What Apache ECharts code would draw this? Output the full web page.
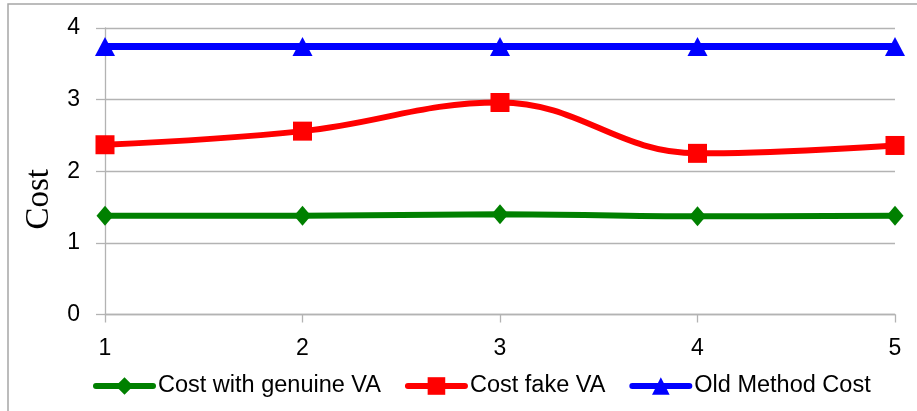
<!DOCTYPE html>
<html>
<head>
<meta charset="utf-8">
<script src="https://cdn.jsdelivr.net/npm/echarts@6/dist/echarts.min.js"></script>
<style>
  html, body { margin: 0; padding: 0; background: #fff; }
  #chart { width: 917px; height: 411px; }
</style>
</head>
<body>
<div id="chart"></div>
<script>
// Categories along the x axis
const categories = ['1', '2', '3', '4', '5'];
// Cost series
const genuineCost = [1.38, 1.38, 1.40, 1.37, 1.38];
const fakeCost = [2.37, 2.56, 2.96, 2.25, 2.36];
const oldMethodCost = [3.74, 3.74, 3.74, 3.74, 3.74];
// Series names shown in the legend
const seriesNames = ['Cost with genuine VA', 'Cost fake VA', 'Old Method Cost'];

const sansFont = '"Liberation Sans", Arial, sans-serif';
const gridGray = '#b3b3b3';

const chart = echarts.init(document.getElementById('chart'), null, { renderer: 'canvas' });

chart.setOption({
  backgroundColor: '#ffffff',
  animation: false,
  graphic: [{
    type: 'rect',
    shape: { x: 8, y: 4, width: 940, height: 440 },
    style: { fill: 'none', stroke: '#a6a6a6', lineWidth: 1.5 },
    silent: true,
    z: -1
  }],
  grid: { left: 105, right: 22, top: 28, bottom: 96.5, containLabel: false },
  legend: {
    left: 93,
    top: 374,
    padding: 0,
    itemWidth: 57,
    itemHeight: 22,
    itemGap: 24,
    lineStyle: { width: 6, cap: 'round' },
    textStyle: { fontFamily: sansFont, fontSize: 23.5, color: '#000' },
    data: seriesNames
  },
  xAxis: {
    type: 'category',
    data: categories,
    boundaryGap: false,
    axisLine: { show: true, lineStyle: { color: gridGray, width: 1.3 } },
    axisTick: { show: true, length: 8, lineStyle: { color: gridGray, width: 1.3 } },
    axisLabel: { margin: 23, fontFamily: sansFont, fontSize: 23, color: '#000' },
    splitLine: { show: false }
  },
  yAxis: {
    type: 'value',
    min: 0,
    max: 4,
    interval: 1,
    name: 'Cost',
    nameLocation: 'middle',
    nameGap: 39,
    nameTextStyle: {
      fontFamily: '"Liberation Serif", "Times New Roman", serif',
      fontSize: 33,
      color: '#000',
      padding: [0, 56, 0, 0]
    },
    axisLine: { show: true, lineStyle: { color: gridGray, width: 1.3 } },
    axisTick: { show: true, length: 9, lineStyle: { color: gridGray, width: 1.3 } },
    axisLabel: { margin: 25, fontFamily: sansFont, fontSize: 23, color: '#000' },
    splitLine: { show: true, lineStyle: { color: gridGray, width: 1.3 } }
  },
  series: [
    {
      name: seriesNames[0],
      type: 'line',
      data: genuineCost,
      smooth: 0.4,
      symbol: 'diamond',
      symbolSize: [17, 20],
      color: '#008000',
      lineStyle: { color: '#008000', width: 6 },
      itemStyle: { color: '#008000' },
      z: 3
    },
    {
      name: seriesNames[1],
      type: 'line',
      data: fakeCost,
      smooth: 0.4,
      symbol: 'rect',
      symbolSize: 19,
      color: '#ff0000',
      lineStyle: { color: '#ff0000', width: 6 },
      itemStyle: { color: '#ff0000' },
      z: 4
    },
    {
      name: seriesNames[2],
      type: 'line',
      data: oldMethodCost,
      smooth: 0.4,
      symbol: 'triangle',
      symbolSize: [20, 19],
      color: '#0000ff',
      lineStyle: { color: '#0000ff', width: 7 },
      itemStyle: { color: '#0000ff' },
      z: 5
    }
  ]
});
</script>
</body>
</html>
